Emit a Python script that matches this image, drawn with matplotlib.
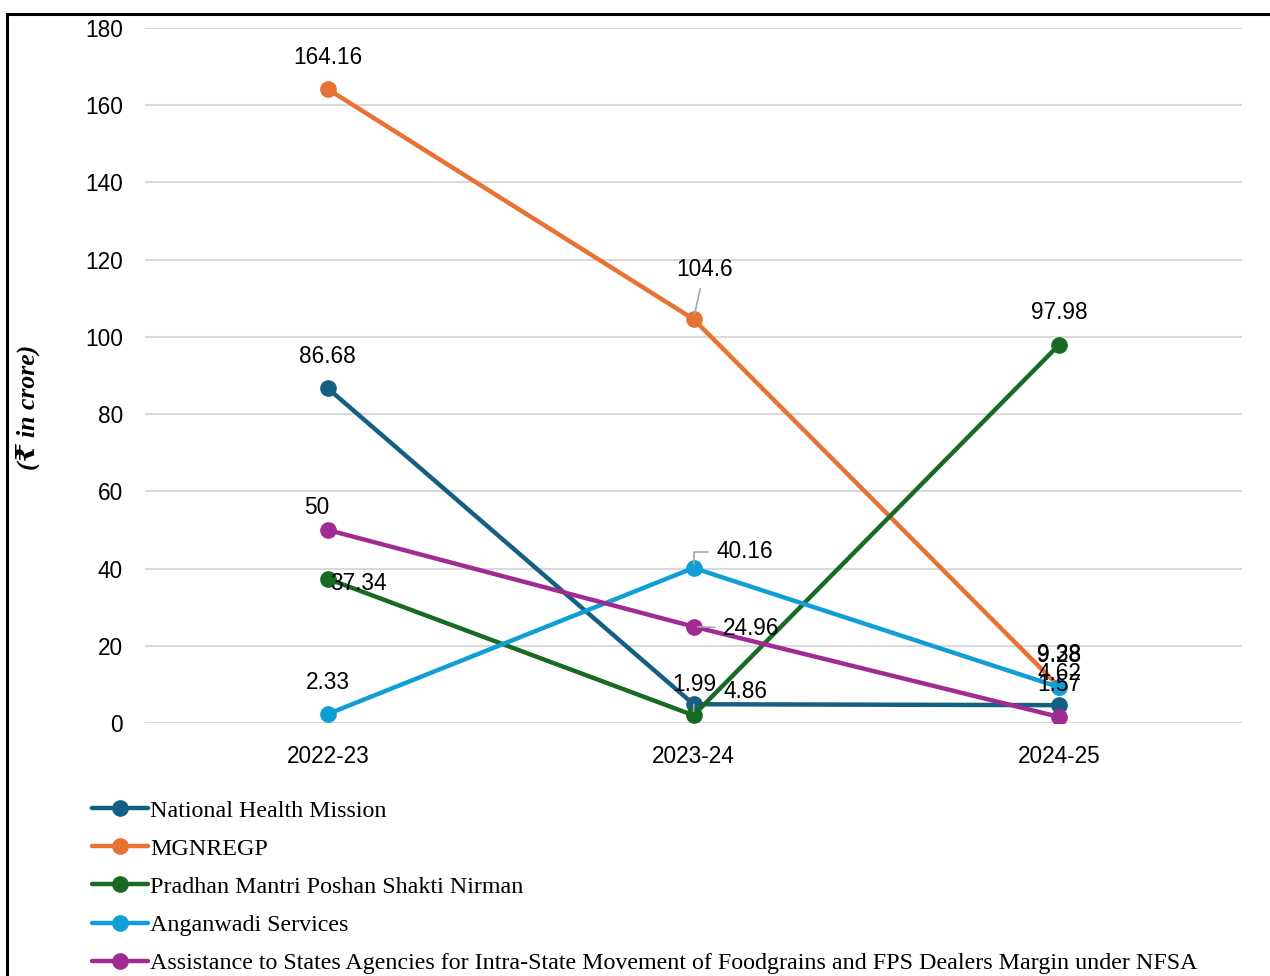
import matplotlib.pyplot as plt
from matplotlib.patches import Rectangle

years = ['2022-23', '2023-24', '2024-25']

nhm = [86.68, 4.86, 4.62]
mgnregp = [164.16, 104.6, 9.38]
pm_poshan = [37.34, 1.99, 97.98]
anganwadi = [2.33, 40.16, 9.28]
nfsa = [50, 24.96, 1.57]

names = [
    'National Health Mission',
    'MGNREGP',
    'Pradhan Mantri Poshan Shakti Nirman',
    'Anganwadi Services',
    'Assistance to States Agencies for Intra-State Movement of Foodgrains and FPS Dealers Margin under NFSA',
]
series = [nhm, mgnregp, pm_poshan, anganwadi, nfsa]
colors = ['#156082', '#E97132', '#196B24', '#0F9ED5', '#A02B93']

# label offsets in pixels (dx, dy) and whether a leader line is drawn
default_off = (0, 32)
label_off = {
    (0, 1): (52, 13, None),
    (1, 1): (11, 50, 'straight'),
    (2, 0): (31, -5, None),
    (2, 1): (1, 31, 'straight'),
    (3, 1): (51, 16, 'elbow'),
    (4, 0): (-11, 22, None),
    (4, 1): (58, -2, 'flat'),
}

plt.rcParams['font.family'] = ['Liberation Sans', 'DejaVu Sans']

fig = plt.figure(figsize=(12.7, 9.76), dpi=100)
ax = fig.add_axes([145 / 1270, 1 - 723 / 976, 1097 / 1270, 695 / 976])

x = list(range(len(years)))
lines = []
for s, vals in enumerate(series):
    ln, = ax.plot(x, vals, color=colors[s], lw=3.2, marker='o', markersize=11,
                  solid_capstyle='round', zorder=3, label=names[s])
    lines.append(ln)

for s, vals in enumerate(series):
    for i, v in enumerate(vals):
        dx, dy, leader = label_off.get((s, i), default_off + (None,))
        txt = f'{v:g}'
        if leader is None:
            ax.annotate(txt, (i, v), xytext=(dx, dy), textcoords='offset pixels',
                        ha='center', va='center', fontsize=16.3, zorder=5)
        else:
            if leader == 'elbow':
                cs = 'angle,angleA=0,angleB=90,rad=0'
            else:
                cs = 'arc3'
            ax.annotate(txt, (i, v), xytext=(dx, dy), textcoords='offset pixels',
                        ha='center', va='center', fontsize=16.3, zorder=5,
                        arrowprops=dict(arrowstyle='-', color='#a6a6a6', lw=1.2,
                                        connectionstyle=cs, shrinkA=4, shrinkB=3))

ax.set_xlim(-0.5, 2.5)
ax.set_ylim(0, 180)
ax.set_yticks(range(0, 181, 20))
ax.set_xticks(x)
ax.set_xticklabels(years)
ax.tick_params(length=0, labelsize=16.3, pad=16)
ax.grid(axis='y', color='#d9d9d9', lw=1.5)
ax.set_axisbelow(True)
for sp in ax.spines.values():
    sp.set_visible(False)

fig.text(28 / 1270, 1 - 407 / 976, '(₹ in crore)', rotation=90, ha='center', va='center',
         fontsize=18.5, fontweight='bold', fontstyle='italic',
         family=['Liberation Serif', 'DejaVu Serif', 'DejaVu Sans'])

fig.legend(handles=lines, loc='upper left', bbox_to_anchor=(92 / 1270, 1 - 800 / 976),
           frameon=False, prop={'family': 'Liberation Serif', 'size': 17.3},
           handlelength=2.33, handletextpad=0.08, labelspacing=0.675, borderaxespad=0,
           borderpad=0)

fig.add_artist(Rectangle((7 / 1270, -0.05), 1.1, 1 - 14 / 976 + 0.05,
                         transform=fig.transFigure, fill=False, lw=2.2, ec='black'))

fig.savefig('out.png', dpi=100)
